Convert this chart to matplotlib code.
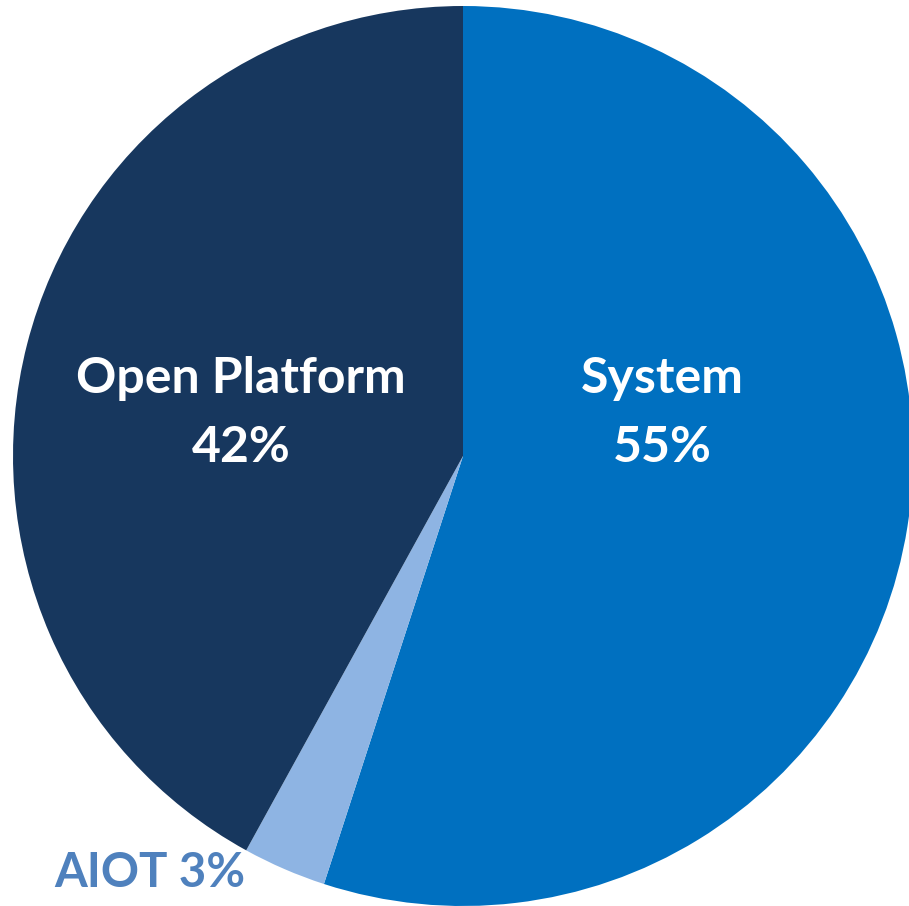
import matplotlib.pyplot as plt

labels = ['System', 'AIOT', 'Open Platform']
shares = [55, 3, 42]
colors = ['#0070C0', '#8EB4E3', '#17375E']

fig = plt.figure(figsize=(9.09, 9.06), dpi=100)
ax = fig.add_axes([0, 0, 1, 1])

ax.pie(shares, colors=colors, startangle=90, counterclock=False,
       center=(463, 450), radius=450, frame=True,
       wedgeprops=dict(linewidth=0))
ax.set_xlim(0, 909)
ax.set_ylim(0, 906)
ax.set_aspect('equal')
ax.axis('off')

font = dict(family='Lato', weight='bold', fontsize=36)
ax.text(662, 513, labels[0], color='white', ha='center', va='baseline', **font)
ax.text(662, 444, f'{shares[0]}%', color='white', ha='center', va='baseline', **font)
ax.text(241, 513, labels[2], color='white', ha='center', va='baseline', **font)
ax.text(241, 444, f'{shares[2]}%', color='white', ha='center', va='baseline', **font)
ax.text(150, 19, f'{labels[1]} {shares[1]}%', color='#4F81BD', ha='center',
        va='baseline', family='Lato', weight='bold', fontsize=34)

fig.savefig('out.png', dpi=100)
